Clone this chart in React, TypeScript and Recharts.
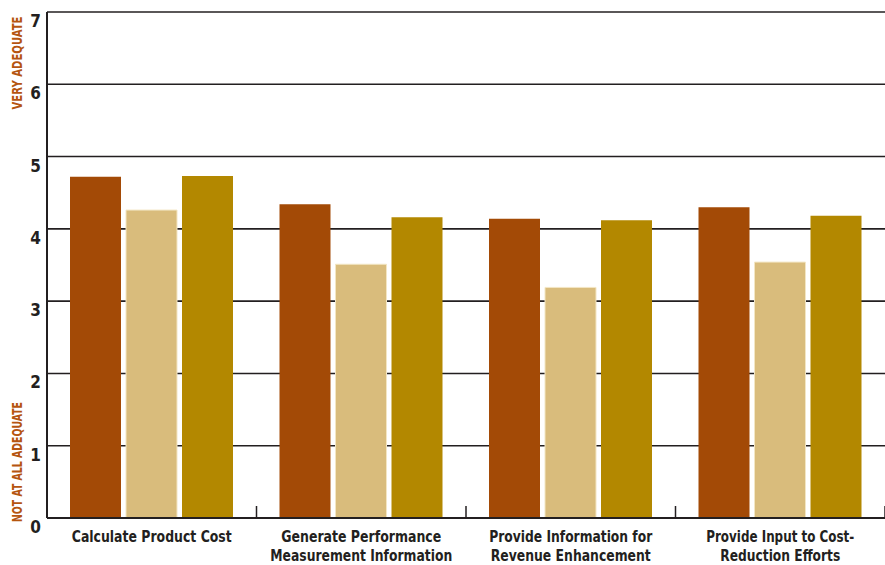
import { BarChart, Bar, XAxis, YAxis, CartesianGrid, Label } from 'recharts';

const categories = [
  'Calculate Product Cost',
  'Generate Performance\nMeasurement Information',
  'Provide Information for\nRevenue Enhancement',
  'Provide Input to Cost-\nReduction Efforts',
];
// rendered widths of each label line in the reference (condensed face)
const labelWidths = [[160], [160, 182], [163, 160], [148, 120]];
const seriesA = [4.72, 4.34, 4.14, 4.3];
const seriesB = [4.26, 3.51, 3.19, 3.54];
const seriesC = [4.73, 4.16, 4.12, 4.18];
const yTicks = [0, 1, 2, 3, 4, 5, 6, 7];

const data = categories.map((name, i) => ({
  name,
  a: seriesA[i],
  b: seriesB[i],
  c: seriesC[i],
}));

const FONT = "'DejaVu Sans Condensed', 'Liberation Sans', sans-serif";
const INK = '#231f20';
const ACCENT = '#b5550f';

function YTick({ x, y, payload }: any) {
  return (
    <text x={x + 2} y={y + 9} dy="0.35em" textAnchor="end" fontFamily={FONT} fontWeight="bold" fontSize={17} fill={INK}>
      {payload.value}
    </text>
  );
}

function XTick({ x, y, payload, index }: any) {
  const lines = String(payload.value).split('\n');
  const half = payload.offset ?? 0;
  const widths = labelWidths[index] || [];
  return (
    <g>
      <line x1={x + half} x2={x + half} y1={y - 20} y2={y - 8} stroke={INK} strokeWidth={1.5} />
      {lines.map((l, i) => (
        <text
          key={i}
          x={x}
          y={y + 11 + i * 18.5}
          dy="0.35em"
          textAnchor="middle"
          fontFamily={FONT}
          fontWeight="bold"
          fontSize={15}
          fill={INK}
          textLength={widths[i]}
          lengthAdjust="spacingAndGlyphs"
        >
          {l}
        </text>
      ))}
    </g>
  );
}

function SideLabels() {
  return (
    <g>
      <text transform="translate(17,63) rotate(-90)" dy="0.35em" textAnchor="middle" fontFamily={FONT} fontWeight="bold" fontSize={14} fill={ACCENT} textLength={93} lengthAdjust="spacingAndGlyphs">
        VERY ADEQUATE
      </text>
      <text transform="translate(17,462) rotate(-90)" dy="0.35em" textAnchor="middle" fontFamily={FONT} fontWeight="bold" fontSize={14} fill={ACCENT} textLength={120} lengthAdjust="spacingAndGlyphs">
        NOT AT ALL ADEQUATE
      </text>
    </g>
  );
}

export default function App() {
  return (
    <div style={{ position: 'absolute', left: 0, top: 0, width: 885, height: 565, background: '#fff' }}>
      <BarChart width={885} height={565} data={data} margin={{ top: 12, right: 0, bottom: 0, left: 0 }} barSize={51} barGap={5}>
        <CartesianGrid vertical={false} stroke={INK} strokeWidth={1.6} strokeOpacity={1} />
        <YAxis
          domain={[0, 7]}
          ticks={yTicks}
          width={47}
          tick={<YTick />}
          tickLine={false}
          axisLine={{ stroke: INK, strokeWidth: 2 }}
        >
          <Label content={<SideLabels />} />
        </YAxis>
        <XAxis
          dataKey="name"
          height={47}
          tick={<XTick />}
          tickLine={false}
          interval={0}
          axisLine={{ stroke: INK, strokeWidth: 2 }}
        />
        <Bar dataKey="a" fill="#a34a06" isAnimationActive={false} />
        <Bar dataKey="b" fill="#d9bc7c" stroke="#f3e6c4" strokeWidth={1} isAnimationActive={false} />
        <Bar dataKey="c" fill="#b38800" isAnimationActive={false} />
      </BarChart>
    </div>
  );
}
